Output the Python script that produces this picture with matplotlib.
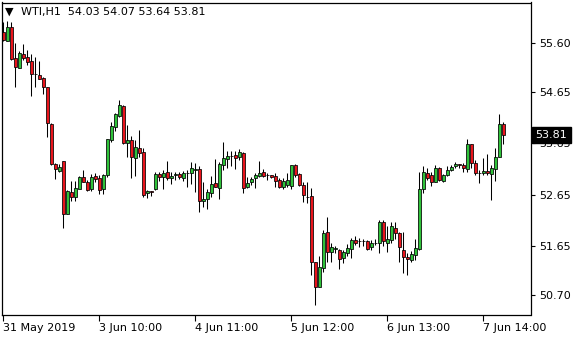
import numpy as np
import matplotlib
matplotlib.use("Agg")
import matplotlib.pyplot as plt

# WTI H1 candles (oldest first)
opens = [55.82, 55.65, 55.91, 55.31, 55.12, 55.39, 55.33, 55.26, 55.00, 54.98,
         54.92, 54.74, 54.03, 53.24, 53.12, 53.30, 52.28, 52.70, 52.61, 52.76,
         52.99, 52.89, 52.76, 53.01, 52.97, 52.77, 53.03, 53.71, 53.96, 54.18,
         54.38, 53.66, 53.72, 53.36, 53.56, 53.48, 52.68, 52.72, 52.76, 53.05,
         52.99, 53.09, 52.97, 53.03, 53.05, 52.98, 53.07, 53.07, 53.13, 53.15,
         52.52, 52.56, 52.68, 52.87, 52.79, 53.22, 53.35, 53.41, 53.43, 53.38,
         53.46, 52.81, 52.89, 52.97, 53.02, 53.09, 53.03, 53.04, 53.02, 52.94,
         52.80, 52.83, 52.82, 53.22, 53.05, 52.84, 52.61, 52.63, 51.34, 50.86,
         51.22, 51.93, 51.53, 51.59, 51.58, 51.41, 51.51, 51.59, 51.77, 51.75,
         51.75, 51.75, 51.63, 51.71, 51.71, 52.12, 51.72, 51.76, 52.00, 51.90,
         51.57, 51.43, 51.38, 51.48, 51.60, 52.76, 53.07, 53.04, 52.90, 53.17,
         52.92, 53.04, 53.13, 53.20, 53.24, 53.23, 53.15, 53.64, 53.26, 53.08,
         53.07, 53.11, 53.05, 53.15, 53.39, 54.03]
highs = [56.01, 56.03, 56.01, 55.61, 55.44, 55.59, 55.47, 55.39, 55.33, 55.25,
         54.94, 54.75, 54.04, 53.27, 53.25, 53.31, 52.74, 52.92, 52.92, 53.02,
         53.13, 52.94, 53.05, 53.07, 53.04, 53.05, 53.73, 54.07, 54.24, 54.50,
         54.39, 54.01, 53.80, 53.72, 53.91, 53.56, 52.75, 52.72, 53.10, 53.10,
         53.13, 53.31, 53.10, 53.10, 53.10, 53.12, 53.13, 53.29, 53.26, 53.20,
         52.90, 52.76, 53.02, 53.34, 53.29, 53.68, 53.51, 53.50, 53.50, 53.54,
         53.48, 52.99, 53.00, 53.08, 53.31, 53.15, 53.07, 53.04, 53.07, 52.97,
         52.97, 53.07, 53.23, 53.25, 53.07, 52.90, 52.90, 52.78, 51.34, 51.45,
         51.96, 52.21, 51.71, 51.65, 51.60, 51.58, 51.69, 51.80, 51.85, 51.80,
         51.78, 51.77, 51.77, 51.79, 52.15, 52.16, 52.04, 52.11, 52.12, 51.93,
         51.93, 51.52, 51.56, 51.78, 53.10, 53.21, 53.17, 53.09, 53.23, 53.18,
         53.05, 53.21, 53.23, 53.29, 53.24, 53.26, 53.73, 53.64, 53.33, 53.13,
         53.36, 53.44, 53.23, 53.56, 54.22, 54.07]
lows = [55.64, 55.64, 55.27, 54.74, 55.11, 55.27, 55.18, 54.57, 54.74, 54.90,
        54.61, 53.78, 53.23, 52.95, 53.10, 52.01, 52.27, 52.52, 52.52, 52.90,
        52.90, 52.73, 52.73, 52.90, 52.67, 52.66, 53.00, 53.68, 53.89, 54.17,
        53.64, 53.39, 52.97, 53.02, 53.39, 52.61, 52.58, 52.63, 52.74, 52.92,
        52.76, 52.94, 52.86, 52.94, 52.95, 52.92, 52.81, 52.86, 52.71, 52.32,
        52.42, 52.37, 52.60, 52.80, 52.56, 53.13, 53.17, 53.20, 53.15, 53.33,
        52.68, 52.78, 52.84, 52.78, 53.00, 53.00, 52.94, 52.97, 52.81, 52.78,
        52.76, 52.80, 52.76, 53.00, 52.82, 52.50, 52.49, 51.09, 50.50, 50.85,
        51.15, 51.35, 51.35, 51.52, 51.20, 51.33, 51.46, 51.41, 51.67, 51.64,
        51.65, 51.58, 51.58, 51.67, 51.51, 51.65, 51.54, 51.71, 51.78, 51.35,
        51.12, 51.08, 51.35, 51.38, 51.57, 52.69, 52.94, 52.82, 52.89, 52.92,
        52.90, 53.02, 53.11, 53.17, 53.17, 53.10, 53.10, 53.17, 53.04, 52.87,
        53.04, 53.04, 52.54, 52.92, 53.38, 53.64]
closes = [55.66, 55.91, 55.29, 55.14, 55.41, 55.31, 55.23, 55.00, 55.00, 54.91,
          54.74, 54.04, 53.25, 53.15, 53.19, 52.28, 52.72, 52.61, 52.78, 52.99,
          52.90, 52.75, 52.99, 52.96, 52.74, 53.04, 53.73, 53.98, 54.22, 54.39,
          53.66, 53.72, 53.38, 53.58, 53.46, 52.65, 52.73, 52.70, 53.05, 53.00,
          53.07, 52.98, 53.02, 53.05, 52.99, 53.07, 53.07, 53.17, 53.15, 52.52,
          52.57, 52.70, 52.85, 52.81, 53.25, 53.36, 53.41, 53.41, 53.37, 53.48,
          52.79, 52.87, 52.95, 53.03, 53.08, 53.02, 53.03, 53.00, 52.92, 52.80,
          52.92, 52.94, 53.22, 53.04, 52.84, 52.65, 52.61, 51.35, 50.86, 51.24,
          51.90, 51.54, 51.63, 51.61, 51.39, 51.53, 51.61, 51.77, 51.72, 51.75,
          51.75, 51.60, 51.72, 51.71, 52.12, 51.75, 51.78, 52.04, 51.90, 51.63,
          51.43, 51.39, 51.49, 51.61, 52.76, 53.09, 52.97, 52.90, 53.17, 52.94,
          53.04, 53.13, 53.19, 53.25, 53.22, 53.17, 53.64, 53.26, 53.07, 53.08,
          53.11, 53.07, 53.17, 53.38, 54.03, 53.81]

xtick_pos = [0, 24, 48, 72, 96, 120]
xtick_labels = ['31 May 2019', '3 Jun 10:00', '4 Jun 11:00', '5 Jun 12:00',
                '6 Jun 13:00', '7 Jun 14:00']
ytick_vals = [55.60, 54.65, 53.65, 52.65, 51.65, 50.70]
last_price = 53.81

bull = '#2fc23a'
bear = '#e8141c'

o = np.array(opens)
h = np.array(highs)
l = np.array(lows)
c = np.array(closes)
x = np.arange(len(o))

fig = plt.figure(figsize=(5.8, 3.4), dpi=100)
ax = fig.add_axes([2 / 580, 25 / 340, 528.5 / 580, 312.5 / 340])

ax.vlines(x, l, h, color='black', lw=0.75, zorder=1)
colours = np.where(c >= o, bull, bear)
ax.bar(x, np.abs(c - o), bottom=np.minimum(o, c), width=0.72,
       color=colours, edgecolor='black', linewidth=0.55, zorder=2)

ax.set_xlim(-0.33, 131.8)
ax.set_ylim(50.31, 56.39)

ax.yaxis.tick_right()
ax.set_yticks(ytick_vals)
ax.set_yticklabels(['%.2f' % v for v in ytick_vals])
ax.tick_params(axis='y', direction='out', length=3, width=0.8, pad=3, labelsize=8)

ax.set_xticks(xtick_pos)
ax.set_xticklabels(xtick_labels)
ax.tick_params(axis='x', direction='out', length=4, width=0.8, pad=2, labelsize=8)
for lab in ax.get_xticklabels():
    lab.set_ha('left')

for s in ax.spines.values():
    s.set_linewidth(0.9)

# last price marker on the price scale
ax.text(1.0095, last_price, '%.2f' % last_price, transform=ax.get_yaxis_transform(),
        color='white', fontsize=8, va='center', ha='left',
        bbox=dict(boxstyle='square,pad=0.3', fc='black', ec='black'))

# header
fig.text(5 / 580, 1 - 12 / 340, '\u25BC', fontsize=8, va='center', ha='left')
fig.text(21 / 580, 1 - 12 / 340, 'WTI,H1  %.2f %.2f %.2f %.2f' % (opens[-1], highs[-1], lows[-1], closes[-1]),
         fontsize=8, va='center', ha='left')

fig.savefig('out.png', dpi=100)
